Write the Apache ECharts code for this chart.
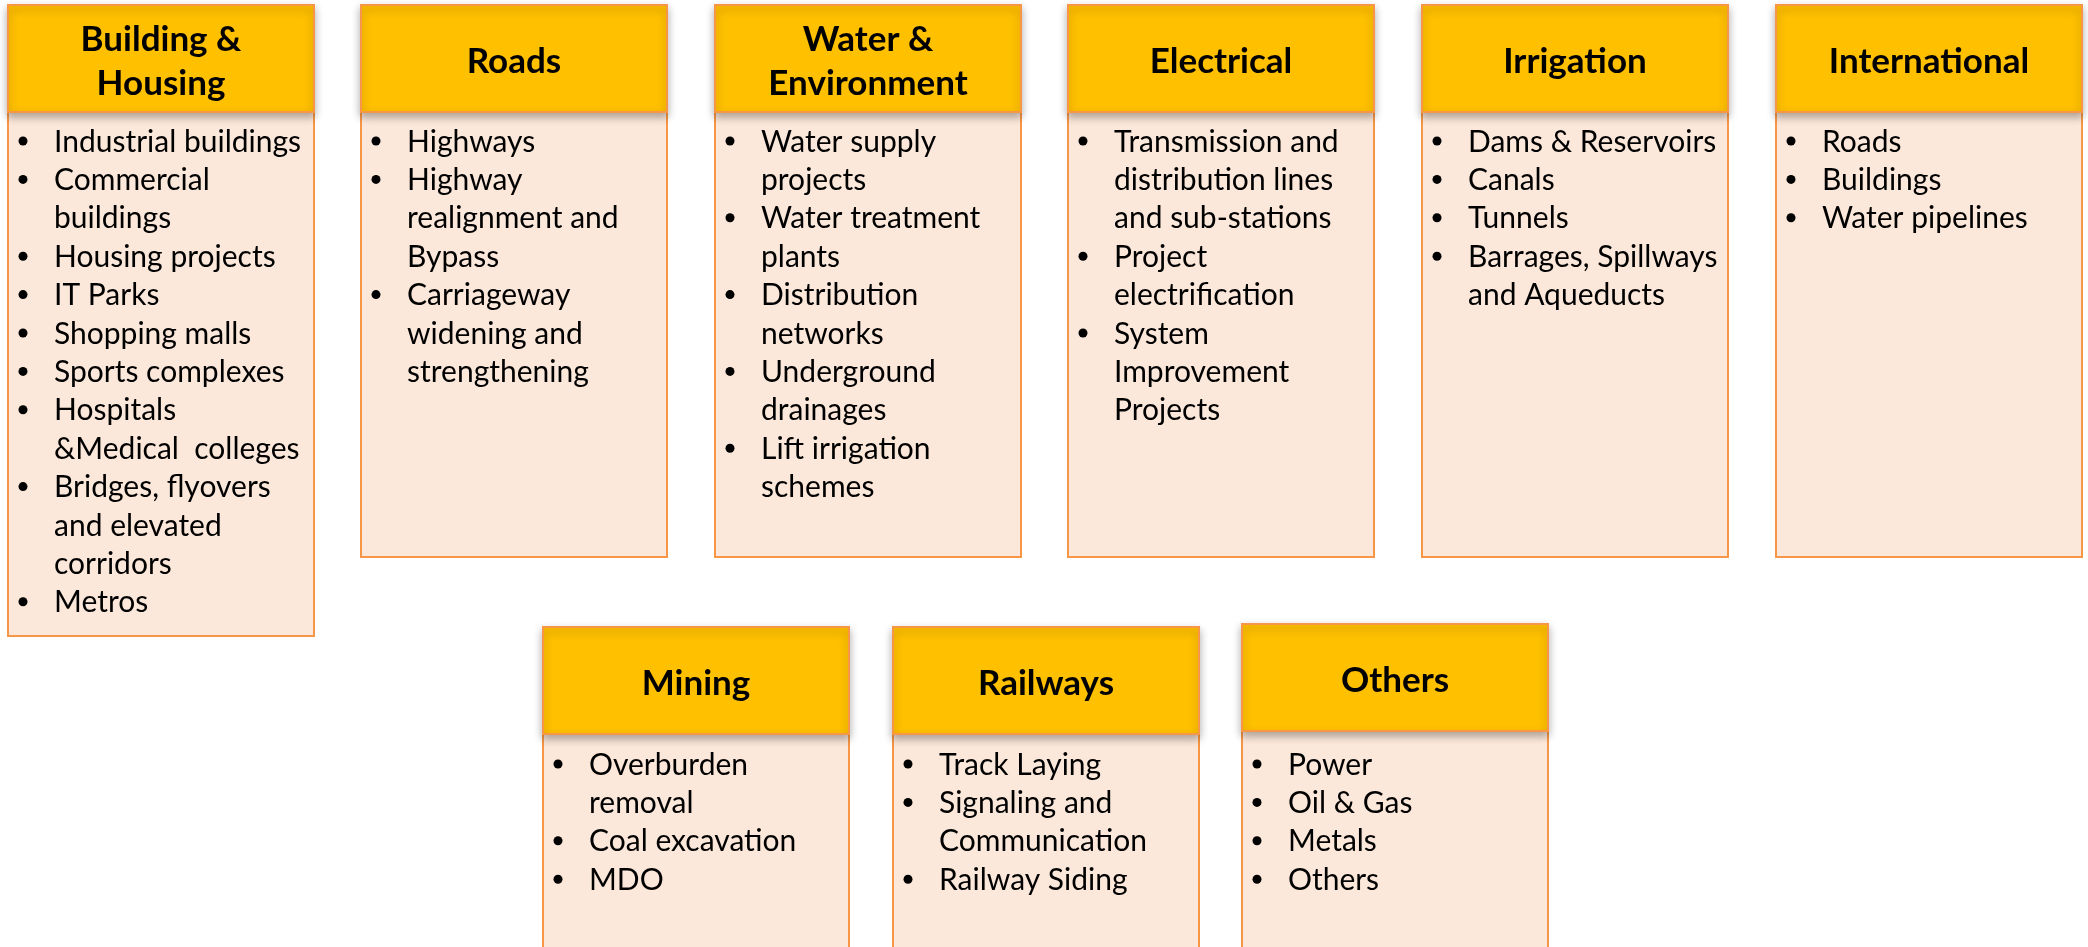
<!DOCTYPE html>
<html>
<head>
<meta charset="utf-8">
<title>Business segments</title>
<script src="https://cdn.jsdelivr.net/npm/echarts@6/dist/echarts.min.js"></script>
<style>
  html, body { margin: 0; padding: 0; background: #ffffff; }
  #chart { width: 2088px; height: 947px; }
</style>
</head>
<body>
<div id="chart"></div>
<script>
// segment titles, top row then bottom row
const titles = [
  'Building &\nHousing', 'Roads', 'Water &\nEnvironment', 'Electrical', 'Irrigation', 'International',
  'Mining', 'Railways', 'Others'
]

// bullet items per segment (\n = wrapped line as in the slide)
const buildingItems = [
  'Industrial buildings', 'Commercial\nbuildings', 'Housing projects', 'IT Parks', 'Shopping malls',
  'Sports complexes', 'Hospitals\n&Medical  colleges', 'Bridges, flyovers\nand elevated\ncorridors', 'Metros'
]
const roadsItems = ['Highways', 'Highway\nrealignment and\nBypass', 'Carriageway\nwidening and\nstrengthening']
const waterItems = [
  'Water supply\nprojects', 'Water treatment\nplants', 'Distribution\nnetworks', 'Underground\ndrainages',
  'Lift irrigation\nschemes'
]
const electricalItems = [
  'Transmission and\ndistribution lines\nand sub-stations', 'Project\nelectrification', 'System\nImprovement\nProjects'
]
const irrigationItems = ['Dams & Reservoirs', 'Canals', 'Tunnels', 'Barrages, Spillways\nand Aqueducts']
const internationalItems = ['Roads', 'Buildings', 'Water pipelines']
const miningItems = ['Overburden\nremoval', 'Coal excavation', 'MDO']
const railwaysItems = ['Track Laying', 'Signaling and\nCommunication', 'Railway Siding']
const othersItems = ['Power', 'Oil & Gas', 'Metals', 'Others']

const itemLists = [
  buildingItems, roadsItems, waterItems, electricalItems, irrigationItems, internationalItems,
  miningItems, railwaysItems, othersItems
]

// layout of the boxes (x, header top, body bottom, first text baseline)
const boxLayout = [
  { x: 8, top: 5, bottom: 636, text: 152 },
  { x: 361, top: 5, bottom: 557, text: 152 },
  { x: 715, top: 5, bottom: 557, text: 152 },
  { x: 1068, top: 5, bottom: 557, text: 152 },
  { x: 1422, top: 5, bottom: 557, text: 152 },
  { x: 1776, top: 5, bottom: 557, text: 152 },
  { x: 543, top: 627, bottom: 960, text: 775 },
  { x: 893, top: 627, bottom: 960, text: 775 },
  { x: 1242, top: 624, bottom: 960, text: 775 }
]

const BOX_W = 306
const HEAD_H = 107
const LINE_H = 38.4
const FONT = 'Lato, "Noto Sans", sans-serif'

const chart = echarts.init(document.getElementById('chart'))

const elements = []

boxLayout.forEach((b, i) => {
  const headBottom = b.top + HEAD_H

  // body
  elements.push({
    type: 'rect',
    shape: { x: b.x, y: headBottom, width: BOX_W, height: b.bottom - headBottom },
    style: { fill: '#fce8da', stroke: '#f79646', lineWidth: 2 },
    z: 1
  })

  // header
  elements.push({
    type: 'rect',
    shape: { x: b.x, y: b.top, width: BOX_W, height: HEAD_H },
    style: {
      fill: '#ffc000', stroke: '#f79646', lineWidth: 2,
      shadowBlur: 8, shadowOffsetY: 4, shadowColor: 'rgba(0,0,0,0.3)'
    },
    z: 2
  })

  elements.push({
    type: 'text',
    x: b.x + BOX_W / 2,
    y: b.top + HEAD_H / 2 + 3,
    style: {
      text: titles[i],
      fill: '#000',
      font: 'bold 35px ' + FONT,
      lineHeight: 44,
      align: 'center',
      verticalAlign: 'middle'
    },
    z: 3
  })

  // bullets
  let baseline = b.text
  itemLists[i].forEach(item => {
    elements.push({
      type: 'circle',
      shape: { cx: b.x + 15, cy: baseline - 11, r: 4.5 },
      style: { fill: '#000' },
      z: 3
    })
    item.split('\n').forEach(line => {
      elements.push({
        type: 'text',
        x: b.x + 46,
        y: baseline - 10,
        style: {
          text: line,
          fill: '#000',
          font: '30px ' + FONT,
          align: 'left',
          verticalAlign: 'middle'
        },
        z: 3
      })
      baseline += LINE_H
    })
  })
})

chart.setOption({
  backgroundColor: '#ffffff',
  animation: false,
  graphic: { elements: elements }
})

window.addEventListener('resize', () => chart.resize())
</script>
</body>
</html>
